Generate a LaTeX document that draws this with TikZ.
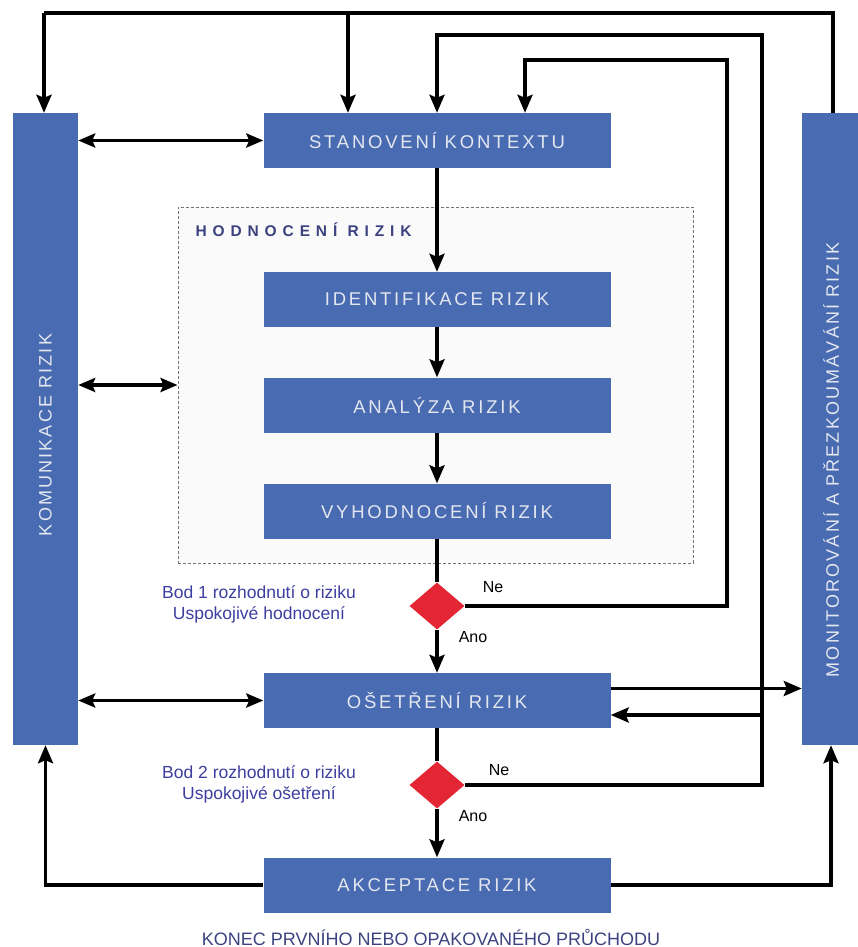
\documentclass[tikz,border=0pt]{standalone}
\usepackage{fontspec}
\setmainfont{Liberation Sans}
\newfontfamily\boxfont[LetterSpace=15]{Liberation Sans}
\newfontfamily\barfont[LetterSpace=12]{Liberation Sans}
\newfontfamily\hodfont[LetterSpace=38]{Liberation Sans}
\usetikzlibrary{positioning,shapes.geometric,arrows.meta,calc}

\begin{document}
\begin{tikzpicture}[
    x=1pt, y=-1pt,
    box/.style={draw=none, fill=bblue, minimum width=347pt, minimum height=55pt, inner sep=0pt, text=btext, font=\boxfont\fontsize{18.5}{22}\selectfont},
    bar/.style={draw=none, fill=bblue, minimum height=632pt, inner sep=0pt},
    bartext/.style={rotate=90, text=btext, font=\barfont\fontsize{18}{22}\selectfont},
    decision/.style={diamond, fill=dred, draw=none, minimum width=55pt, minimum height=47pt, inner sep=0pt},
    note/.style={text=nblue, align=center, font=\fontsize{17.5}{21}\selectfont},
    yesno/.style={font=\fontsize{16}{18}\selectfont},
    line/.style={line width=3.5pt},
    arr/.style={line, -{Stealth[length=18pt, width=15pt, inset=3pt]}},
    dbl/.style={line, {Stealth[length=17pt, width=14pt, inset=3pt]}-{Stealth[length=17pt, width=14pt, inset=3pt]}}
]

\definecolor{bblue}{RGB}{73,107,178}
\definecolor{btext}{RGB}{228,231,240}
\definecolor{dred}{RGB}{228,38,52}
\definecolor{nblue}{RGB}{60,62,160}
\definecolor{hblue}{RGB}{60,66,128}

\useasboundingbox (0,0) rectangle (858,947);

% Assessment frame
\node[draw=black!55, dashed, dash pattern=on 3pt off 2pt, line width=0.9pt, fill=black!2, minimum width=515pt, minimum height=356pt] (hod) at (435.5,385) {};
\node[anchor=west, text=hblue, font=\hodfont\bfseries\fontsize{15.5}{18}\selectfont] (hodtxt) at (192,230) {HODNOCENÍ RIZIK};

% Side bars
\node[bar, minimum width=65pt] (kom) at (45.5,429) {};
\node[bartext] (komtxt) at (45.5,435) {KOMUNIKACE RIZIK};
\node[bar, minimum width=58pt] (mon) at (831,429) {};
\node[bartext] (montxt) at (831,460) {MONITOROVÁNÍ A PŘEZKOUMÁVÁNÍ RIZIK};

% Process column
\node[box] (ctx) at (437,140.5) {STANOVENÍ KONTEXTU};
\node[box] (ident) at (437,299.5) {IDENTIFIKACE RIZIK};
\node[box] (anal) at (437,405) {ANALÝZA RIZIK};
\node[box] (vyh) at (437,511) {VYHODNOCENÍ RIZIK};
\node[decision] (d1) at (437,606) {};
\node[box] (oset) at (437,700.5) {OŠETŘENÍ RIZIK};
\node[decision] (d2) at (437,785) {};
\node[box] (akc) at (437,885) {AKCEPTACE RIZIK};

% Labels
\node[note] (bod1) at (259,604) {Bod 1 rozhodnutí o riziku\\Uspokojivé hodnocení};
\node[note] (bod2) at (259,784) {Bod 2 rozhodnutí o riziku\\Uspokojivé ošetření};
\node[yesno] (ne1) at (493,587) {Ne};
\node[yesno] (ano1) at (473,637) {Ano};
\node[yesno] (ne2) at (499,770) {Ne};
\node[yesno] (ano2) at (473,816) {Ano};
\node[text=hblue, font=\fontsize{18}{20}\selectfont] (konec) at (431,937) {KONEC PRVNÍHO NEBO OPAKOVANÉHO PRŮCHODU};

% Loop corners
\coordinate (topL) at (44,13);
\coordinate (topC) at (348,13);
\coordinate (topR) at (833,13);
\coordinate (midL) at (437,35);
\coordinate (midR) at (762,35);
\coordinate (lowL) at (525,60);
\coordinate (lowR) at (727,60);
\coordinate (back) at (762,715);

% Main flow
\draw[arr] (ctx) -- (ident);
\draw[arr] (ident) -- (anal);
\draw[arr] (anal) -- (vyh);
\draw[line] (vyh) -- (d1);
\draw[arr] (d1) -- (oset);
\draw[line] (oset) -- (d2);
\draw[arr] (d2) -- (akc);

% Feedback loops
\draw[line] (mon.north -| topR) -- (topR) -- (topL);
\draw[arr] (topL) -- (kom.north -| topL);
\draw[arr] (topC) -- (ctx.north -| topC);
\draw[arr] (d1.east) -| (lowR) -- (lowL) -- (ctx.north -| lowL);
\draw[arr] (d2.east) -| (midR) -- (midL) -- (ctx.north -| midL);
\draw[arr] (back) -- (oset.east |- back);
\draw[arr] ([yshift=12pt]oset.east) -- ([yshift=12pt]oset.east -| mon.west);
\draw[arr] (akc.west) -| (kom.south);
\draw[arr] (akc.east) -| (mon.south);

% Communication
\draw[dbl] (kom.east |- ctx) -- (ctx.west);
\draw[dbl] (kom.east |- hod.west) -- (hod.west);
\draw[dbl] (kom.east |- oset) -- (oset.west);

\end{tikzpicture}
\end{document}
